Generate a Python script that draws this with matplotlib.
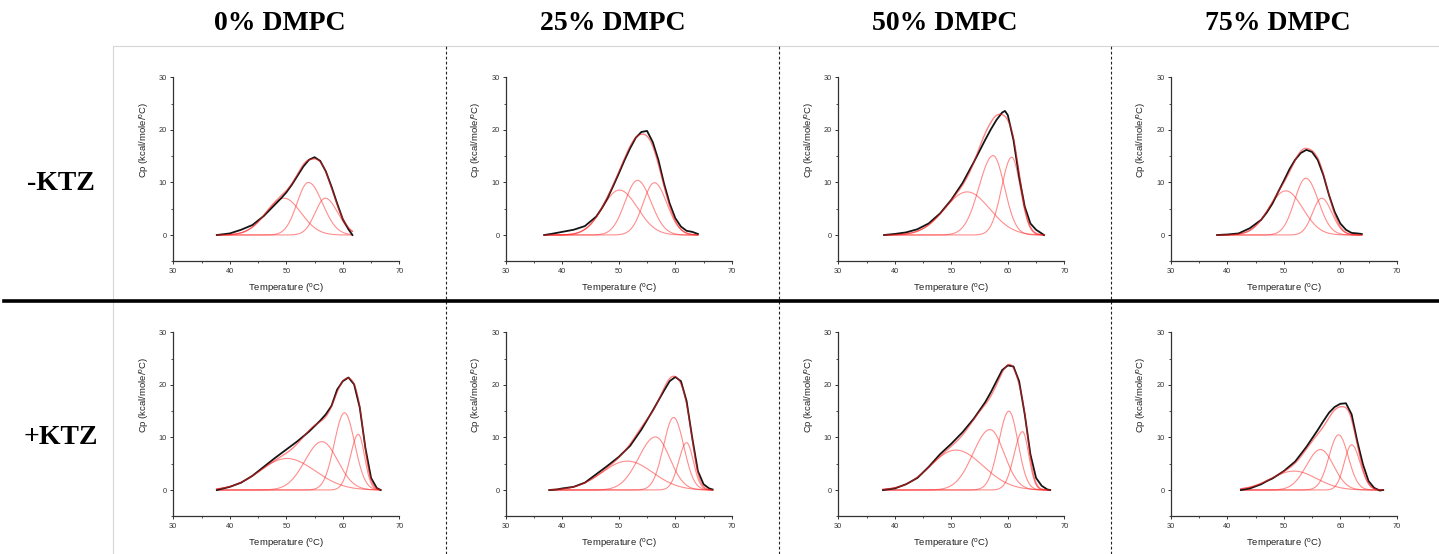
import numpy as np
import matplotlib
matplotlib.use("Agg")
import matplotlib.pyplot as plt
from matplotlib.lines import Line2D

# ---------------- data ----------------
col_titles = ["0% DMPC", "25% DMPC", "50% DMPC", "75% DMPC"]
row_titles = ["-KTZ", "+KTZ"]

# measured DSC traces (black), -KTZ row
t_minus_0 = [37.7, 40, 42, 44, 46, 48, 49, 50, 51, 52, 53, 54, 55, 56, 57, 58, 59, 60, 61, 61.7]
cp_minus_0 = [0.0, 0.3, 1.0, 1.9, 3.6, 5.8, 6.9, 8.1, 9.6, 11.3, 13.0, 14.3, 14.8, 14.1, 12.1, 9.2, 6.0, 3.0, 1.1, 0.0]
t_minus_25 = [36.8, 38, 40, 42, 44, 46, 47, 48, 49, 50, 51, 52, 53, 54, 55, 56, 57, 58, 59, 60, 61, 62, 63, 64]
cp_minus_25 = [0.0, 0.2, 0.6, 1.0, 1.7, 3.5, 5.1, 7.0, 9.3, 11.7, 14.2, 16.5, 18.5, 19.6, 19.8, 17.7, 14.3, 9.8, 6.0, 3.2, 1.6, 0.8, 0.6, 0.2]
t_minus_50 = [38.1, 40, 42, 44, 46, 48, 50, 52, 54, 56, 57, 58, 59, 59.5, 60, 61, 62, 63, 64, 65, 66, 66.4]
cp_minus_50 = [0.0, 0.2, 0.5, 1.1, 2.2, 4.1, 6.7, 9.9, 13.9, 18.1, 20.1, 21.9, 23.3, 23.6, 22.8, 18.1, 11.1, 5.4, 2.2, 1.0, 0.3, 0.0]
t_minus_75 = [38.2, 40, 42, 44, 46, 47, 48, 49, 50, 51, 52, 53, 54, 55, 56, 57, 58, 59, 60, 61, 62, 63, 63.8]
cp_minus_75 = [0.0, 0.1, 0.3, 1.3, 2.9, 4.3, 6.0, 8.2, 10.3, 12.5, 14.3, 15.6, 16.2, 15.8, 14.3, 11.4, 7.6, 4.4, 2.2, 1.0, 0.4, 0.3, 0.2]

# measured DSC traces (black), +KTZ row
t_plus_0 = [37.7, 40, 42, 44, 46, 48, 50, 52, 54, 56, 57, 58, 59, 60, 61, 62, 63, 64, 65, 66, 66.7]
cp_plus_0 = [0.0, 0.6, 1.4, 2.7, 4.4, 6.1, 7.7, 9.3, 11.1, 13.2, 14.4, 16.0, 19.1, 20.7, 21.4, 20.1, 15.7, 8.0, 2.3, 0.4, 0.0]
t_plus_25 = [37.7, 39, 40, 42, 44, 46, 48, 50, 52, 54, 56, 57, 58, 59, 60, 61, 62, 63, 64, 65, 66, 66.6]
cp_plus_25 = [0.0, 0.1, 0.3, 0.6, 1.4, 3.0, 4.6, 6.3, 8.4, 11.5, 15.1, 17.0, 18.9, 20.7, 21.5, 20.7, 16.9, 9.9, 3.6, 1.1, 0.3, 0.1]
t_plus_50 = [37.9, 40, 42, 44, 46, 48, 50, 52, 54, 56, 57, 58, 59, 60, 61, 62, 63, 64, 65, 66, 67, 67.5]
cp_plus_50 = [0.0, 0.3, 1.1, 2.3, 4.4, 6.8, 8.8, 11.0, 13.6, 16.7, 18.6, 20.7, 22.8, 23.7, 23.5, 20.7, 14.4, 6.8, 2.3, 0.8, 0.1, 0.0]
t_plus_75 = [42.4, 44, 46, 47, 48, 50, 52, 54, 56, 57, 58, 59, 60, 61, 62, 63, 64, 65, 66, 67, 67.6]
cp_plus_75 = [0.0, 0.3, 1.1, 1.7, 2.2, 3.6, 5.4, 8.2, 11.4, 13.1, 14.7, 15.8, 16.4, 16.5, 14.4, 9.3, 4.9, 1.7, 0.4, -0.1, 0.0]

# fitted components (red): centre Tm, height, left / right width, per panel
tm_minus = [[49.6, 53.9, 56.9], [50.1, 53.3, 56.3], [52.8, 57.4, 60.7], [50.35, 53.9, 56.7]]
h_minus = [[7.0, 10.0, 7.0], [8.55, 10.4, 9.95], [8.2, 15.1, 14.8], [8.4, 10.8, 7.0]]
wl_minus = [[3.2, 2.0, 1.8], [3.0, 2.2, 2.0], [4.0, 2.5, 1.8], [3.0, 2.0, 1.6]]
wr_minus = [[3.0, 2.5, 2.2], [3.2, 2.4, 2.2], [4.0, 2.0, 1.5], [3.0, 2.2, 1.8]]

tm_plus = [[50.1, 56.3, 60.3, 62.75], [51.5, 56.5, 59.7, 62.0], [50.8, 56.85, 60.2, 62.6], [51.8, 56.5, 59.7, 62.0]]
h_plus = [[6.0, 9.2, 14.7, 10.6], [5.5, 10.1, 13.8, 9.0], [7.6, 11.5, 15.0, 11.1], [3.6, 7.7, 10.5, 8.6]]
wl_plus = [[4.8, 3.0, 1.8, 1.4], [4.5, 3.0, 1.8, 1.4], [4.5, 3.0, 1.8, 1.5], [4.0, 2.5, 1.7, 1.3]]
wr_plus = [[5.0, 2.8, 1.8, 1.1], [4.5, 2.5, 1.8, 1.2], [4.8, 2.5, 1.6, 1.1], [4.0, 2.3, 1.7, 1.5]]

x_ticks = [30, 40, 50, 60, 70]
y_ticks = [0, 10, 20, 30]

# ---------------- figure ----------------
W, H = 1439, 554
fig = plt.figure(figsize=(W / 100, H / 100), dpi=100)
plt.rcParams["mathtext.fontset"] = "custom"
plt.rcParams["mathtext.rm"] = "Liberation Sans"

col_x0 = [173.3, 505.8, 838.3, 1170.8]
row_top = [77.3, 332.3]
ax_w, ax_h = 226.0, 184.0

traces = [
    [(t_minus_0, cp_minus_0), (t_minus_25, cp_minus_25), (t_minus_50, cp_minus_50), (t_minus_75, cp_minus_75)],
    [(t_plus_0, cp_plus_0), (t_plus_25, cp_plus_25), (t_plus_50, cp_plus_50), (t_plus_75, cp_plus_75)],
]
params = [(tm_minus, h_minus, wl_minus, wr_minus), (tm_plus, h_plus, wl_plus, wr_plus)]


def bigauss(x, c, h, sl, sr):
    s = np.where(x < c, sl, sr)
    return h * np.exp(-((x - c) ** 2) / (2 * s ** 2))


for r in range(2):
    tms, hs, wls, wrs = params[r]
    for c in range(4):
        left = col_x0[c]
        top = row_top[r]
        ax = fig.add_axes([left / W, 1 - (top + ax_h) / H, ax_w / W, ax_h / H])
        t, cp = traces[r][c]
        ax.plot(t, cp, color="#151515", lw=1.3, zorder=3, solid_joinstyle="round")
        xx = np.linspace(t[0], t[-1], 400)
        total = np.zeros_like(xx)
        for cc, hh, sl, sr in zip(tms[c], hs[c], wls[c], wrs[c]):
            comp = bigauss(xx, cc, hh, sl, sr)
            total += comp
            ax.plot(xx, comp, color="#ff3030", lw=0.8, alpha=0.55, zorder=2)
        ax.plot(xx, total, color="#ff2020", lw=1.0, alpha=0.55, zorder=4)

        ax.set_xlim(30, 70)
        ax.set_ylim(-5, 30)
        ax.set_xticks(x_ticks)
        ax.set_xticks([35, 45, 55, 65], minor=True)
        ax.set_yticks(y_ticks)
        ax.set_yticks([-5, 5, 15, 25], minor=True)
        for s in ["top", "right"]:
            ax.spines[s].set_visible(False)
        for s in ["left", "bottom"]:
            ax.spines[s].set_color("#333333")
            ax.spines[s].set_linewidth(0.9)
        ax.tick_params(which="major", direction="out", length=2.5, width=0.7,
                       labelsize=5.3, pad=2, colors="#333333")
        ax.tick_params(which="minor", direction="out", length=1.6, width=0.6, colors="#333333")
        for lab in ax.get_xticklabels() + ax.get_yticklabels():
            lab.set_family("Liberation Sans")
        ax.set_xlabel(r"Temperature ($^\mathrm{o}$C)", fontsize=6.8, family="Liberation Sans",
                      color="#222222", labelpad=5)
        ax.set_ylabel(r"Cp (kcal/mole/$^\mathrm{o}$C)", fontsize=6.8, family="Liberation Sans",
                      color="#222222")
        ax.yaxis.set_label_coords(-0.10, 0.66)
        ax.patch.set_alpha(0)

# titles
for i, title in enumerate(col_titles):
    fig.text((280 + 332.5 * i) / W, 1 - 23 / H, title, ha="center", va="center",
             fontsize=20, fontweight="bold", family="Liberation Serif")
for i, title in enumerate(row_titles):
    fig.text(61 / W, 1 - (183 + 254 * i) / H, title, ha="center", va="center",
             fontsize=20, fontweight="bold", family="Liberation Serif")

# frame lines
gray = "#d6d6d6"
fig.add_artist(Line2D([113 / W, 1], [1 - 46 / H] * 2, color=gray, lw=0.8))
fig.add_artist(Line2D([113 / W] * 2, [0, 1 - 46 / H], color=gray, lw=0.8))
for xv in [446, 779, 1111]:
    fig.add_artist(Line2D([xv / W] * 2, [0, 1 - 46 / H], color="#222222", lw=0.8,
                          linestyle=(0, (2.5, 2))))
fig.add_artist(Line2D([4 / W, 1], [1 - 301 / H] * 2, color="black", lw=2.6))

fig.savefig("out.png", dpi=100)
